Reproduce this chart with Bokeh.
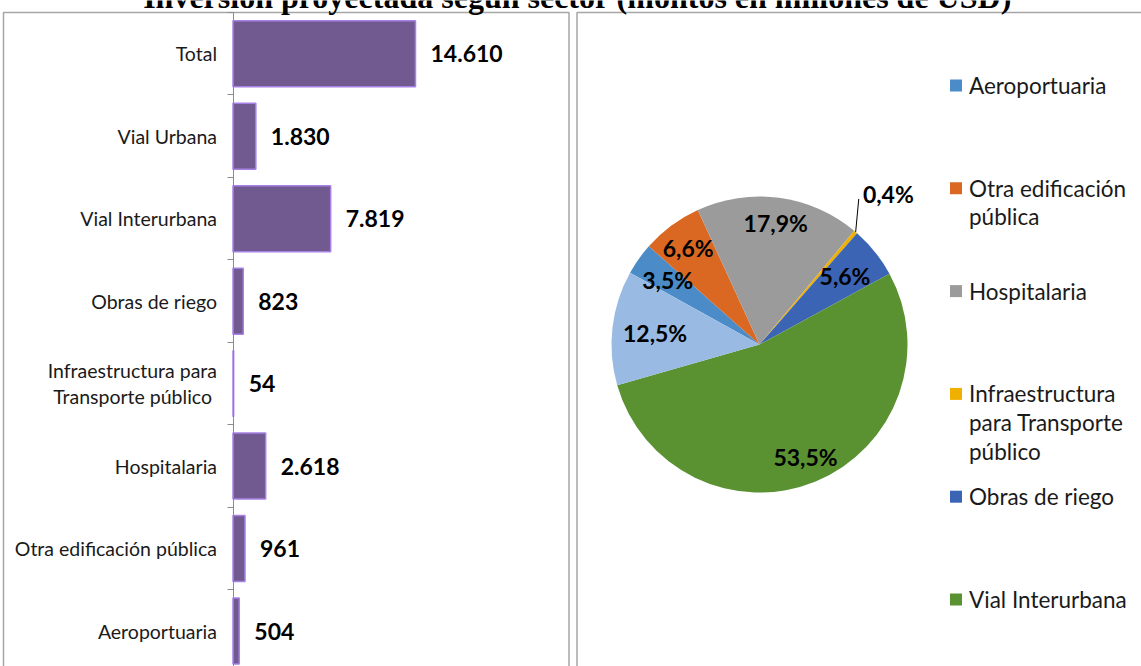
import math
from bokeh.plotting import figure
from bokeh.models import Range1d, FixedTicker
from bokeh.core.properties import value
from bokeh.embed import file_html
from bokeh.resources import INLINE

TITLE = "Inversión proyectada según sector (montos en millones de USD)"

# ---- data: bar chart (top to bottom) ----
bar_categories = ["Total", "Vial Urbana", "Vial Interurbana", "Obras de riego",
                  "Infraestructura para\nTransporte público ", "Hospitalaria",
                  "Otra edificación pública", "Aeroportuaria"]
bar_values = [14610, 1830, 7819, 823, 54, 2618, 961, 504]

# ---- data: pie chart (clockwise order) ----
pie_sectors = ["Aeroportuaria", "Otra edificación pública", "Hospitalaria",
               "Infraestructura para Transporte público", "Obras de riego",
               "Vial Interurbana", "Vial Urbana"]
pie_percent = [3.5, 6.6, 17.9, 0.4, 5.6, 53.5, 12.5]
pie_colors = ["#4A8BC8", "#DA6822", "#9B9B9B", "#F0B000", "#3B64B4", "#5A9232", "#98BAE3"]
legend_labels = ["Aeroportuaria", "Otra edificación\npública", "Hospitalaria",
                 "Infraestructura\npara Transporte\npúblico", "Obras de riego",
                 "Vial Interurbana"]

# ---- layout constants (pixels) ----
W, H = 1141, 666
AXIS_X = 232.5          # page x of bar axis
TOTAL_END = 415.0       # page x where the largest bar ends
ROW_TOP = 12.0          # page y of top of first row
ROW_PX = 82.47          # row height
PIE_CX, PIE_CY, PIE_R = 759.0, 344.0, 148.0
FIRST_SLICE_DEG = -61.0  # clockwise from 12 o'clock
LABEL_R = [0.76, 0.81, 0.83, 1.34, 0.74, 0.82, 0.71]

px_per_unit = (TOTAL_END - AXIS_X) / max(bar_values)
x_start = -AXIS_X / px_per_unit
x_end = x_start + W / px_per_unit
y_top = -0.5 - ROW_TOP / ROW_PX
y_bottom = y_top + H / ROW_PX

p = figure(width=W, height=H, x_range=Range1d(x_start, x_end),
           y_range=Range1d(y_bottom, y_top),
           output_backend="svg", toolbar_location=None,
           x_axis_location=None, y_axis_location="left",
           min_border=0, min_border_left=0, min_border_right=0,
           min_border_top=0, min_border_bottom=0,
           outline_line_color=None, background_fill_color="white",
           border_fill_color="white")
p.grid.visible = False

p.extra_x_ranges = {"pie": Range1d(-PIE_CX / PIE_R, (W - PIE_CX) / PIE_R),
                    "page": Range1d(0, W)}
p.extra_y_ranges = {"pie": Range1d(-(H - PIE_CY) / PIE_R, PIE_CY / PIE_R),
                    "page": Range1d(H, 0)}

# panel frames
p.quad(left=[3, 576.5], right=[568.5, 1200], top=[12, 12], bottom=[720, 720],
       x_range_name="page", y_range_name="page",
       fill_color=None, line_color="#A6A6A6", line_width=1.5)

# title (cut at the top, as in the original)
p.text(x=[577], y=[6], text=[TITLE], x_range_name="page", y_range_name="page",
       y_offset=-10,
       text_align="center", text_baseline="alphabetic",
       text_font=value("Liberation Serif"), text_font_style="bold",
       text_font_size="32px", text_color="black")

# ---- bars ----
idx = list(range(len(bar_categories)))
p.hbar(y=idx, left=0, right=bar_values, height=0.8,
       fill_color="#715A8F", line_color="#A881E6", line_width=1.5)

val_labels = [f"{v:,}".replace(",", ".") for v in bar_values]
p.text(x=bar_values, y=idx, text=val_labels, x_offset=15,
       text_align="left", text_baseline="middle",
       text_font=value("Lato"), text_font_style="bold",
       text_font_size="23px", text_color="black")

ax = p.yaxis[0]
ax.fixed_location = 0
ax.bounds = (-0.5, len(bar_categories) - 0.5 + 1)
ax.ticker = FixedTicker(ticks=idx, minor_ticks=[i - 0.5 for i in range(len(idx) + 1)])
ax.major_label_overrides = {i: c for i, c in enumerate(bar_categories)}
ax.axis_line_color = "#8C8C8C"
ax.axis_line_width = 1
ax.major_tick_line_color = None
ax.major_tick_out = 0
ax.major_tick_in = 0
ax.minor_tick_line_color = "#8C8C8C"
ax.minor_tick_out = 6
ax.minor_tick_in = 0
ax.major_label_standoff = 10
ax.major_label_text_font = "Lato"
ax.major_label_text_font_size = "19.5px"
ax.major_label_text_color = "#1A1A1A"
ax.major_label_text_line_height = 1.12

# ---- pie ----
starts, ends, mids = [], [], []
c = FIRST_SLICE_DEG
for pct in pie_percent:
    c2 = c + pct * 3.6
    starts.append(math.radians(90 - c))
    ends.append(math.radians(90 - c2))
    mids.append(math.radians((c + c2) / 2))
    c = c2

p.wedge(x=0, y=0, radius=1, start_angle=starts, end_angle=ends, direction="clock",
        x_range_name="pie", y_range_name="pie",
        fill_color=pie_colors, line_color=None)

lx = [math.sin(m) * r for m, r in zip(mids, LABEL_R)]
ly = [math.cos(m) * r for m, r in zip(mids, LABEL_R)]
pct_labels = [f"{v:.1f}".replace(".", ",") + "%" for v in pie_percent]
p.text(x=lx, y=ly, text=pct_labels, x_range_name="pie", y_range_name="pie",
       text_align="center", text_baseline="middle",
       text_font=value("Lato"), text_font_style="bold",
       text_font_size="23px", text_color="black")

# leader line for the small slice (label outside)
k = pie_percent.index(min(pie_percent))
p.segment(x0=[math.sin(mids[k])], y0=[math.cos(mids[k])],
          x1=[lx[k] - 0.2], y1=[ly[k] - 0.035],
          x_range_name="pie", y_range_name="pie",
          line_color="black", line_width=1)

# ---- legend (manual, page coordinates) ----
LEG_X, LEG_Y0, LEG_DY, LINE_PX = 955.5, 85.0, 102.8, 28.6
sq_y = [LEG_Y0 + i * LEG_DY for i in range(len(legend_labels))]
p.scatter(x=[LEG_X] * len(legend_labels), y=sq_y, marker="square", size=12,
          x_range_name="page", y_range_name="page",
          fill_color=pie_colors[:len(legend_labels)], line_color=None)
txt_y = [y + lab.count("\n") * LINE_PX / 2 for y, lab in zip(sq_y, legend_labels)]
p.text(x=[LEG_X + 13] * len(legend_labels), y=txt_y, text=legend_labels,
       x_range_name="page", y_range_name="page",
       text_align="left", text_baseline="middle",
       text_font=value("Lato"), text_font_size="22.5px",
       text_line_height=1.06, text_color="#1A1A1A")

open("out.html", "w").write(file_html(p, INLINE))
